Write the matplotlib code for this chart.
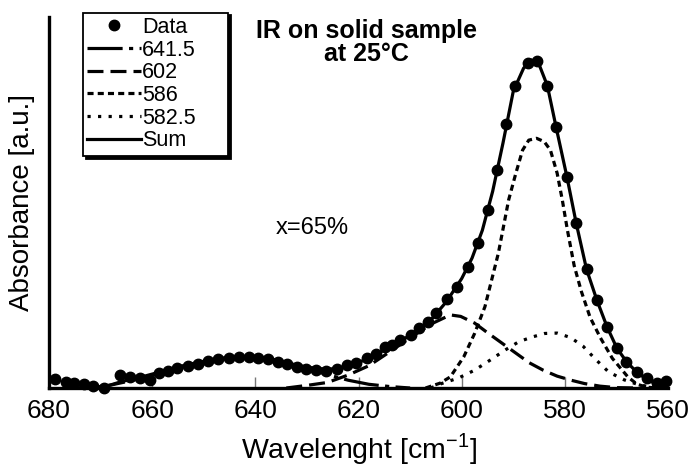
import matplotlib.pyplot as plt

plt.rcParams['font.family'] = ['Liberation Sans', 'DejaVu Sans']
plt.rcParams['mathtext.fontset'] = 'custom'
plt.rcParams['mathtext.rm'] = 'Liberation Sans'

# measured points (wavenumber, absorbance)
data_wn = [678.8, 676.8, 675.1, 673.2, 671.4, 669.4, 666.3, 664.3, 662.4, 660.5,
           658.7, 656.9, 655.1, 653.1, 651.2, 649.2, 647.2, 645.2, 643.2, 641.3,
           639.5, 637.5, 635.7, 633.8, 632.0, 630.1, 628.3, 626.4, 624.2, 622.3,
           620.4, 618.3, 616.6, 614.9, 613.6, 611.9, 609.9, 608.2, 606.6, 604.9,
           602.8, 601.0, 598.8, 596.9, 594.9, 593.1, 591.5, 589.7, 587.2, 585.4,
           583.4, 581.7, 579.6, 577.8, 575.8, 573.8, 571.8, 569.9, 568.1, 566.1,
           564.1, 562.1, 560.4]
data_abs = [0.023, 0.017, 0.013, 0.010, 0.006, 0.000, 0.035, 0.029, 0.026, 0.022,
            0.041, 0.047, 0.053, 0.060, 0.066, 0.074, 0.077, 0.082, 0.083, 0.084,
            0.080, 0.077, 0.071, 0.065, 0.057, 0.051, 0.049, 0.047, 0.052, 0.062,
            0.067, 0.080, 0.092, 0.111, 0.116, 0.129, 0.143, 0.161, 0.179, 0.201,
            0.239, 0.273, 0.327, 0.390, 0.480, 0.588, 0.711, 0.814, 0.877, 0.882,
            0.815, 0.703, 0.569, 0.444, 0.320, 0.237, 0.164, 0.107, 0.069, 0.044,
            0.026, 0.014, 0.019]

# fitted components
c641_wn = [672, 668, 664, 660, 656, 652, 648, 644, 641.5, 638, 634, 630, 626, 622, 618, 614, 610]
c641_abs = [0.0, 0.008, 0.020, 0.035, 0.052, 0.066, 0.077, 0.083, 0.084, 0.081, 0.070,
            0.054, 0.036, 0.021, 0.010, 0.004, 0.0]

c602_wn = [634, 630, 626, 622, 618, 614, 610, 606, 602.2, 600.2, 597.5, 594.9, 592.2,
           589.5, 586.9, 584.2, 581.5, 578.8, 576.2, 573.2, 570, 566]
c602_abs = [0.0, 0.007, 0.015, 0.035, 0.060, 0.097, 0.135, 0.172, 0.197, 0.193, 0.175,
            0.148, 0.121, 0.094, 0.068, 0.048, 0.032, 0.021, 0.012, 0.005, 0.001, 0.0]

c586_wn = [607, 604.2, 602.2, 599.6, 597.5, 595.5, 594.2, 592.9, 591.9, 590.9, 589.5,
           588.2, 587, 585.5, 584, 582.8, 581.5, 580.5, 579.5, 578.2, 576.8, 575.1,
           573.1, 570.8, 567.8, 566, 564, 562]
c586_abs = [0.0, 0.013, 0.030, 0.084, 0.147, 0.219, 0.291, 0.363, 0.435, 0.507, 0.579,
            0.641, 0.668, 0.673, 0.664, 0.641, 0.579, 0.507, 0.425, 0.330, 0.260, 0.190,
            0.135, 0.080, 0.030, 0.010, 0.002, 0.0]

c582_wn = [606, 603.9, 600.6, 597.5, 594.5, 591.5, 588.9, 586.2, 583.9, 581.5, 578.9,
           576.5, 574.1, 571.5, 568.5, 565.5, 562]
c582_abs = [0.0, 0.012, 0.027, 0.048, 0.075, 0.103, 0.125, 0.138, 0.147, 0.148, 0.136,
            0.113, 0.078, 0.043, 0.022, 0.008, 0.0]

sum_wn = [670, 666, 662, 658, 654, 650, 646, 642, 638, 634, 630, 626, 622, 618, 614,
          610, 606, 603, 600, 598, 596, 594, 592, 590, 588, 586.5, 585, 583.4, 581.7,
          579.6, 577.8, 575.8, 573.8, 571.8, 569.9, 568, 566, 564, 562, 560]
sum_abs = [0.0, 0.017, 0.030, 0.045, 0.060, 0.072, 0.081, 0.084, 0.080, 0.068, 0.056,
           0.050, 0.058, 0.080, 0.110, 0.142, 0.183, 0.232, 0.295, 0.350, 0.425, 0.530,
           0.660, 0.800, 0.862, 0.884, 0.872, 0.815, 0.703, 0.569, 0.444, 0.320, 0.237,
           0.164, 0.107, 0.070, 0.042, 0.022, 0.009, 0.002]

xticks = [680, 660, 640, 620, 600, 580, 560]

fig = plt.figure(figsize=(6.93, 4.69), dpi=100)
ax = fig.add_axes([0.0707, 0.1727, 0.8933, 0.7911])

lw = 2.3
ax.plot(data_wn, data_abs, 'o', color='black', markersize=7.5, label='Data', clip_on=False, zorder=5)
ax.plot(c641_wn, c641_abs, color='black', lw=lw, dashes=(11, 2, 1.3, 2), label='641.5')
ax.plot(c602_wn, c602_abs, color='black', lw=lw, dashes=(5, 2.2), label='602')
ax.plot(c586_wn, c586_abs, color='black', lw=lw, dashes=(1.9, 1.3), label='586')
ax.plot(c582_wn, c582_abs, color='black', lw=lw, dashes=(1.0, 2.3), label='582.5')
ax.plot(sum_wn, sum_abs, color='black', lw=lw, label='Sum', zorder=4)

ax.set_xlim(680, 560)
ax.set_ylim(0, 1)
ax.set_xticks(xticks)
ax.set_yticks([])
ax.tick_params(axis='x', direction='in', length=8, width=1, color='#777777',
               labelsize=19, pad=8)
for side in ['top', 'right']:
    ax.spines[side].set_visible(False)
for side in ['left', 'bottom']:
    ax.spines[side].set_linewidth(2.4)

ax.set_xlabel(r'Wavelenght [cm$^{\mathregular{-1}}$]', fontsize=20.5)
ax.xaxis.set_label_coords(0.5, -0.115)
ax.set_ylabel('Absorbance [a.u.]', fontsize=20, labelpad=10)

ax.text(618.5, 0.932, 'IR on solid sample\nat 25°C', ha='center', va='center',
        fontsize=18, fontweight='bold', linespacing=0.95)
ax.text(629, 0.43, 'x=65%', ha='center', va='center', fontsize=17)

leg = ax.legend(loc='upper left', bbox_to_anchor=(0.055, 1.012, 0.234, 0.0),
                mode='expand', fontsize=15.5, frameon=True, fancybox=False,
                edgecolor='black', handlelength=2.5, handletextpad=0.05,
                labelspacing=0.08, borderpad=0.2, borderaxespad=0,
                shadow={'color': 'black', 'alpha': 1})
leg.get_frame().set_linewidth(1.3)

fig.savefig('out.png', dpi=100)
